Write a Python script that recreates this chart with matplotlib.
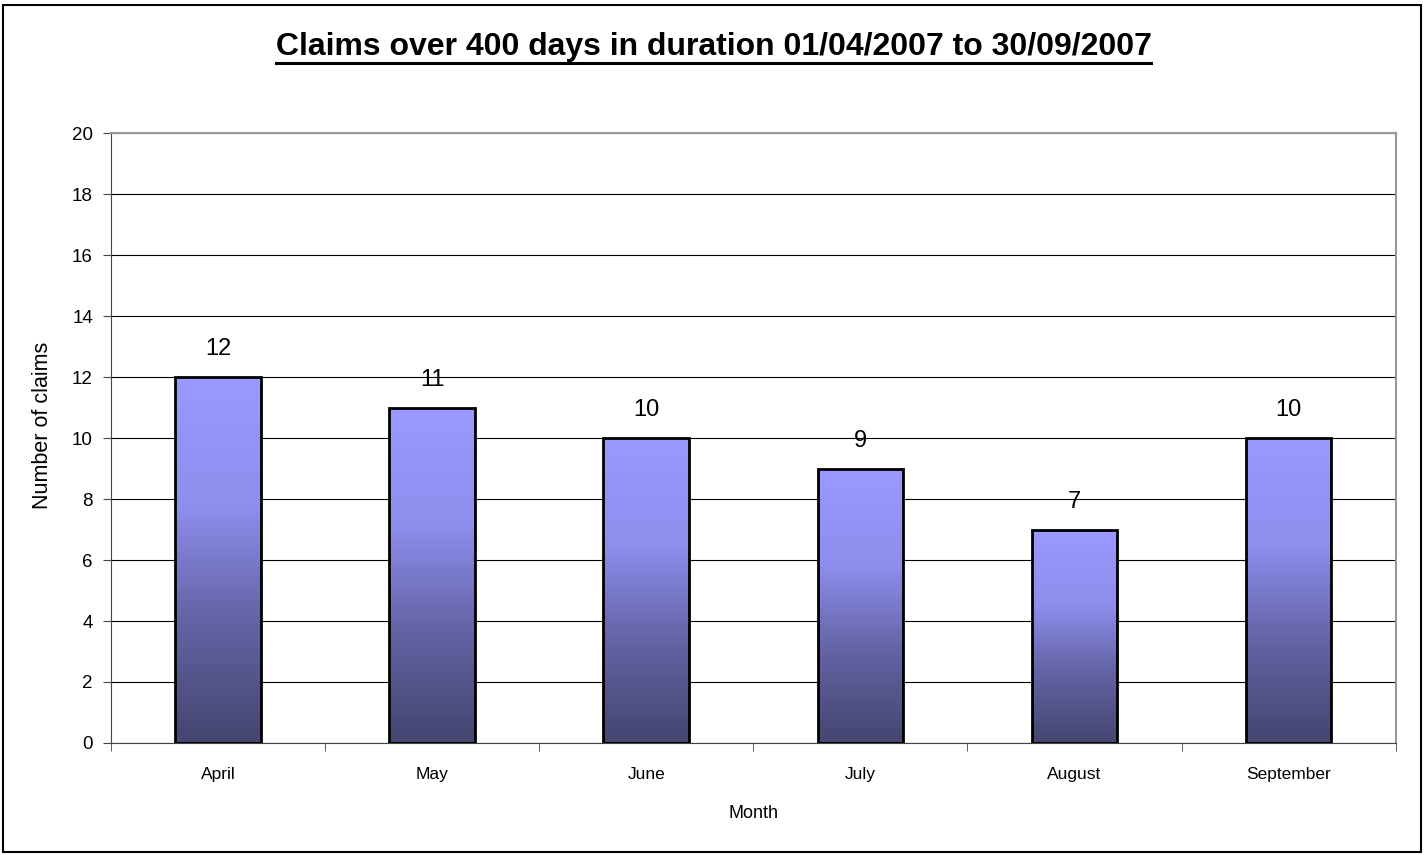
import numpy as np
import matplotlib
matplotlib.use("Agg")
import matplotlib.pyplot as plt
from matplotlib.colors import LinearSegmentedColormap
from matplotlib.patches import Rectangle
from matplotlib.lines import Line2D

months = ["April", "May", "June", "July", "August", "September"]
claims = [12, 11, 10, 9, 7, 10]
yticks = [0, 2, 4, 6, 8, 10, 12, 14, 16, 18, 20]

plt.rcParams["font.family"] = ["Liberation Sans", "DejaVu Sans"]

fig = plt.figure(figsize=(14.27, 8.55), dpi=100)
ax = fig.add_axes([0.0778, 0.131, 0.9002, 0.7134])

# Excel-style vertical gradient: light at top, dark at bottom
grad = LinearSegmentedColormap.from_list(
    "excel", [(0.0, "#454570"), (0.35, "#6565A8"), (0.65, "#8E8EEE"), (1.0, "#9999FF")])

x = np.arange(len(months))
width = 0.4
bars = ax.bar(x, claims, width=width, color="none", edgecolor="black", linewidth=2, zorder=3)
for b, v in zip(bars, claims):
    img = np.linspace(0, 1, 256).reshape(-1, 1)
    im = ax.imshow(img, cmap=grad, origin="lower", aspect="auto",
                   extent=[b.get_x(), b.get_x() + b.get_width(), 0, v], zorder=2)
    clip = Rectangle((b.get_x(), 0), b.get_width(), v, transform=ax.transData)
    im.set_clip_path(clip)
    ax.text(b.get_x() + b.get_width() / 2, v + 0.55, str(v), ha="center", va="bottom", fontsize=17)

ax.set_xlim(-0.5, len(months) - 0.5)
ax.set_ylim(0, 20)
ax.set_yticks(yticks)
ax.set_yticklabels([str(t) for t in yticks], fontsize=13.5)
ax.set_xticks(x)
ax.set_xticklabels(months, fontsize=12.5)
ax.tick_params(axis="x", length=0, pad=17)
ax.set_xticks(np.arange(-0.5, len(months), 1), minor=True)
ax.tick_params(axis="x", which="minor", length=6, direction="out", color="#444444")
ax.tick_params(axis="y", length=6, direction="out", color="#444444", pad=7)

ax.yaxis.grid(True, color="black", linewidth=0.8)
ax.set_axisbelow(True)
for s in ["top", "right"]:
    ax.spines[s].set_color("#999999")
    ax.spines[s].set_linewidth(1.5)
ax.spines["left"].set_color("#444444")
ax.spines["bottom"].set_color("#444444")

ax.set_ylabel("Number of claims", fontsize=15.5, va="center")
ax.yaxis.set_label_coords(-0.053, 0.52)
ax.set_xlabel("Month", fontsize=13, labelpad=17)

title = fig.text(0.5, 0.945, "Claims over 400 days in duration 01/04/2007 to 30/09/2007",
                 ha="center", va="center", fontsize=23, fontweight="bold")
fig.canvas.draw()
bb = title.get_window_extent().transformed(fig.transFigure.inverted())
uy = 1 - 63.5 / 855
fig.add_artist(Line2D([bb.x0, bb.x1], [uy, uy],
                      transform=fig.transFigure, color="black", linewidth=2.2))

# outer chart border
fig.add_artist(Rectangle((0.002, 0.004), 0.9935, 0.99, transform=fig.transFigure,
                         fill=False, edgecolor="black", linewidth=1.5))

fig.savefig("out.png", dpi=100)
